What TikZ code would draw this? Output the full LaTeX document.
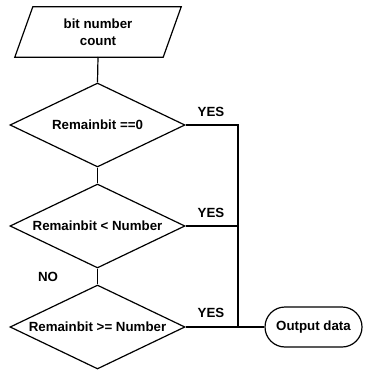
\documentclass[tikz,border=0pt]{standalone}
\usepackage{fontspec}
\setmainfont{Liberation Sans}
\usetikzlibrary{shapes.geometric,shapes.misc}
\begin{document}
\begin{tikzpicture}[x=1pt,y=1pt,
  every node/.style={font=\fontsize{13.3}{17}\selectfont\bfseries},
  line/.style={line width=1.2pt},
  decision/.style={diamond,draw,line width=1.2pt,inner sep=0pt,minimum width=175,minimum height=84,aspect=2.08},
  terminal/.style={rounded rectangle,draw,line width=1.2pt,minimum width=97,minimum height=40,inner sep=0pt},
  iolabel/.style={draw=none,inner sep=0pt,minimum width=148,minimum height=50,align=center},
  tag/.style={inner sep=0pt}]
\useasboundingbox (0,0) rectangle (368,-371);
\node[iolabel] (inp) at (98,-32) {bit number\\count};
\draw[line,line join=miter] ([xshift=9]inp.north west) -- ([xshift=9]inp.north east) -- ([xshift=-9]inp.south east) -- ([xshift=-9]inp.south west) -- cycle;
\node[decision] (d1) at (97.5,-125) {Remainbit ==0};
\node[decision] (d2) at (97.5,-226) {Remainbit < Number};
\node[decision] (d3) at (97.5,-327) {Remainbit >= Number};
\node[terminal] (out) at (313.5,-327) {Output data};
\coordinate (j1) at (238,-125);
\coordinate (j2) at (238,-226);
\coordinate (j3) at (238,-327);
\draw[line] (98,-57) -- (d1.north);
\draw[line] (d1.south) -- (d2.north);
\draw[line] (d2.south) -- (d3.north);
\draw[line] (d1.east) -- (j1) -- (j3);
\draw[line] (d2.east) -- (j2);
\draw[line] (d3.east) -- (out.west);
\node[tag] (y1) at (211,-112) {YES};
\node[tag] (y2) at (211,-213) {YES};
\node[tag] (y3) at (211,-313) {YES};
\node[tag] (no) at (48,-277) {NO};
\end{tikzpicture}
\end{document}
